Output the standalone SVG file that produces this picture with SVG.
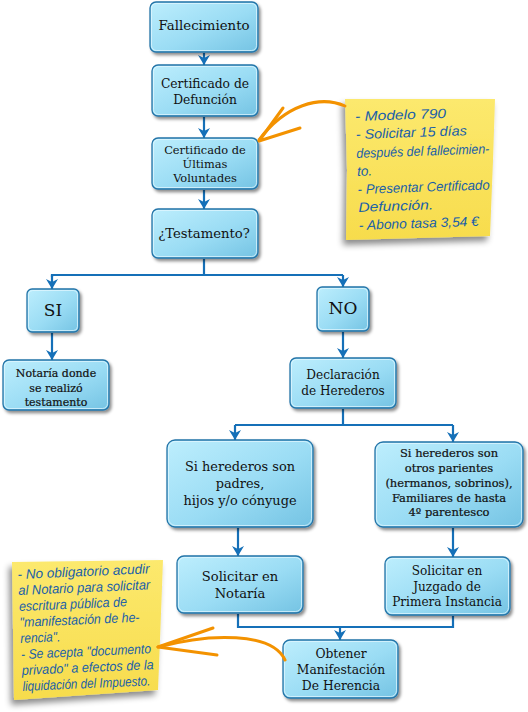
<svg xmlns="http://www.w3.org/2000/svg" width="528" height="712" viewBox="0 0 528 712">
<defs>
<linearGradient id="bg" x1="0" y1="0" x2="1" y2="1">
<stop offset="0" stop-color="#bdeefd"/>
<stop offset="0.55" stop-color="#9adcf4"/>
<stop offset="1" stop-color="#74c3e3"/>
</linearGradient>
<linearGradient id="ny" x1="0" y1="0" x2="0" y2="1">
<stop offset="0" stop-color="#fce96e"/>
<stop offset="1" stop-color="#f7dc4c"/>
</linearGradient>
<filter id="sh" x="-20%" y="-20%" width="150%" height="150%">
<feDropShadow dx="2" dy="2.5" stdDeviation="1.6" flood-color="#000" flood-opacity="0.45"/>
</filter>
<filter id="nsh" x="-20%" y="-20%" width="150%" height="150%">
<feDropShadow dx="-3" dy="5" stdDeviation="3" flood-color="#000" flood-opacity="0.45"/>
</filter>
<marker id="ah" viewBox="0 -6 10 12" refX="10" refY="0" markerWidth="12" markerHeight="12" markerUnits="userSpaceOnUse" orient="auto">
<path d="M0,-6 L10,0 L0,6 L3,0 z" fill="#1570b8"/>
</marker>
</defs>
<style>
.box{fill:url(#bg);stroke:#2474a8;stroke-width:1.3;filter:url(#sh)}
.hl{fill:none;stroke:#e6f8ff;stroke-opacity:0.7;stroke-width:1}
.t{font-family:"DejaVu Serif","Liberation Serif",serif;fill:#111;text-anchor:middle}
.b{stroke:#111;stroke-width:0.2}
.c{fill:none;stroke:#1570b8;stroke-width:2.2}
.ca{fill:none;stroke:#1570b8;stroke-width:2.2;marker-end:url(#ah)}
.note{fill:url(#ny);filter:url(#nsh)}
.nt{font-family:"Liberation Sans","DejaVu Sans",sans-serif;font-style:italic;fill:#1a5fa8;font-size:13.5px}
.or{fill:none;stroke:#f39200;stroke-width:3;stroke-linecap:round;stroke-linejoin:round}
</style>

<g id="connectors">
<line class="ca" x1="204" y1="53" x2="204" y2="65"/>
<line class="ca" x1="204" y1="117" x2="204" y2="138"/>
<line class="ca" x1="204" y1="190" x2="204" y2="209"/>
<path class="c" d="M204,259 V275 H52 V277"/>
<path class="ca" d="M52,275 V289"/>
<path class="c" d="M204,275 H343"/>
<path class="ca" d="M343,275 V287"/>
<line class="ca" x1="52" y1="333" x2="52" y2="360"/>
<line class="ca" x1="343" y1="332" x2="343" y2="358"/>
<path class="c" d="M343,409 V425 H235"/>
<path class="ca" d="M235,425 V440"/>
<path class="c" d="M343,425 H453"/>
<path class="ca" d="M453,425 V442"/>
<line class="ca" x1="238" y1="528" x2="238" y2="556"/>
<line class="ca" x1="453" y1="528" x2="453" y2="557"/>
<path class="c" d="M238,614 V627 H453 V616"/>
<path class="ca" d="M340,627 V640"/>
</g>

<g id="n1"><rect class="box" x="150" y="2" width="108" height="50" rx="6"/><rect class="hl" x="151.5" y="3.5" width="105" height="47" rx="5"/>
<text class="t" x="204" y="30" font-size="13.3">Fallecimiento</text></g>

<g id="n2"><rect class="box" x="152" y="65" width="106" height="51" rx="6"/><rect class="hl" x="153.5" y="66.5" width="103" height="48" rx="5"/>
<text class="t" x="205" y="88" font-size="12.3">Certificado de</text>
<text class="t" x="205" y="104" font-size="12.3">Defunción</text></g>

<g id="n3"><rect class="box" x="152" y="138" width="106" height="51" rx="6"/><rect class="hl" x="153.5" y="139.5" width="103" height="48" rx="5"/>
<text class="t" x="205" y="154" font-size="11.4">Certificado de</text>
<text class="t" x="205" y="168" font-size="11.4">Últimas</text>
<text class="t" x="205" y="182" font-size="11.4">Voluntades</text></g>

<g id="n4"><rect class="box" x="152" y="209" width="106" height="49" rx="6"/><rect class="hl" x="153.5" y="210.5" width="103" height="46" rx="5"/>
<text class="t" x="204" y="238" font-size="13.2">¿Testamento?</text></g>

<g id="n5"><rect class="box" x="27" y="289" width="52" height="43" rx="5"/><rect class="hl" x="28.5" y="290.5" width="49" height="40" rx="4"/>
<text class="t" x="53" y="316" font-size="17">SI</text></g>

<g id="n6"><rect class="box" x="317" y="287" width="52" height="44" rx="5"/><rect class="hl" x="318.5" y="288.5" width="49" height="41" rx="4"/>
<text class="t" x="343" y="314" font-size="17">NO</text></g>

<g id="n7"><rect class="box" x="3" y="360" width="106" height="50" rx="6"/><rect class="hl" x="4.5" y="361.5" width="103" height="47" rx="5"/>
<text class="t b" x="56" y="377" font-size="11">Notaría donde</text>
<text class="t b" x="56" y="392" font-size="11">se realizó</text>
<text class="t b" x="56" y="406" font-size="11">testamento</text></g>

<g id="n8"><rect class="box" x="290" y="358" width="106" height="50" rx="6"/><rect class="hl" x="291.5" y="359.5" width="103" height="47" rx="5"/>
<text class="t" x="343" y="379" font-size="12.1">Declaración</text>
<text class="t" x="343" y="395" font-size="12.1">de Herederos</text></g>

<g id="n9"><rect class="box" x="167" y="440" width="146" height="87" rx="8"/><rect class="hl" x="168.5" y="441.5" width="143" height="84" rx="7"/>
<text class="t" x="240" y="471" font-size="12.9">Si herederos son</text>
<text class="t" x="240" y="488" font-size="12.9">padres,</text>
<text class="t" x="240" y="505" font-size="12.9">hijos y/o cónyuge</text></g>

<g id="n10"><rect class="box" x="375" y="442" width="148" height="85" rx="8"/><rect class="hl" x="376.5" y="443.5" width="145" height="82" rx="7"/>
<text class="t b" x="449" y="457" font-size="11.5">Si herederos son</text>
<text class="t b" x="449" y="472" font-size="11.5">otros parientes</text>
<text class="t b" x="449" y="487" font-size="11.5">(hermanos, sobrinos),</text>
<text class="t b" x="449" y="502" font-size="11.5">Familiares de hasta</text>
<text class="t b" x="449" y="516" font-size="11.5">4º parentesco</text></g>

<g id="n11"><rect class="box" x="177" y="556" width="126" height="57" rx="7"/><rect class="hl" x="178.5" y="557.5" width="123" height="54" rx="6"/>
<text class="t" x="240" y="581" font-size="13.1">Solicitar en</text>
<text class="t" x="240" y="598" font-size="13.1">Notaría</text></g>

<g id="n12"><rect class="box" x="385" y="557" width="125" height="58" rx="7"/><rect class="hl" x="386.5" y="558.5" width="122" height="55" rx="6"/>
<text class="t" x="447" y="575" font-size="12.1">Solicitar en</text>
<text class="t" x="447" y="591" font-size="12.1">Juzgado de</text>
<text class="t" x="447" y="606" font-size="12.1">Primera Instancia</text></g>

<g id="n13"><rect class="box" x="283" y="640" width="115" height="58" rx="7"/><rect class="hl" x="284.5" y="641.5" width="112" height="55" rx="6"/>
<text class="t" x="341" y="658" font-size="12.3">Obtener</text>
<text class="t" x="341" y="674" font-size="12.3">Manifestación</text>
<text class="t" x="341" y="690" font-size="12.3">De Herencia</text></g>

<g id="note1">
<path class="note" d="M345,99 L495,99 L493,160 L490,236 L346,240 L347,170 z"/>
<g transform="rotate(-2 357 170)">
<text class="nt" x="357" y="121" textLength="91" lengthAdjust="spacingAndGlyphs">- Modelo 790</text>
<text class="nt" x="357" y="139" textLength="111" lengthAdjust="spacingAndGlyphs">- Solicitar 15 días</text>
<text class="nt" x="357" y="158" textLength="133" lengthAdjust="spacingAndGlyphs">después del fallecimien-</text>
<text class="nt" x="357" y="176">to.</text>
<text class="nt" x="357" y="194" textLength="132" lengthAdjust="spacingAndGlyphs">- Presentar Certificado</text>
<text class="nt" x="357" y="212" textLength="75" lengthAdjust="spacingAndGlyphs">Defunción.</text>
<text class="nt" x="357" y="230" textLength="120" lengthAdjust="spacingAndGlyphs">- Abono tasa 3,54 €</text>
</g>
</g>
<g id="arrow1">
<path class="or" d="M345,106 C320,95 285,105 259,140"/>
<path class="or" d="M283,108 L259,141 L300,128"/>
</g>

<g id="note2">
<path class="note" d="M12,562 L163,560 L160,640 L158,690 L14,700 z"/>
<g transform="rotate(-2.5 20 630)">
<text class="nt" x="20" y="579" font-size="12.5" textLength="132" lengthAdjust="spacingAndGlyphs">- No obligatorio acudir</text>
<text class="nt" x="20" y="595" font-size="12.5" textLength="132" lengthAdjust="spacingAndGlyphs">al Notario para solicitar</text>
<text class="nt" x="20" y="611" font-size="12.5" textLength="108" lengthAdjust="spacingAndGlyphs">escritura pública de</text>
<text class="nt" x="20" y="627" font-size="12.5" textLength="120" lengthAdjust="spacingAndGlyphs">"manifestación de he-</text>
<text class="nt" x="20" y="643" font-size="12.5" textLength="40" lengthAdjust="spacingAndGlyphs">rencia".</text>
<text class="nt" x="20" y="659" font-size="12.5" textLength="130" lengthAdjust="spacingAndGlyphs">- Se acepta "documento</text>
<text class="nt" x="20" y="675" font-size="12.5" textLength="132" lengthAdjust="spacingAndGlyphs">privado" a efectos de la</text>
<text class="nt" x="20" y="691" font-size="12.5" textLength="128" lengthAdjust="spacingAndGlyphs">liquidación del Impuesto.</text>
</g>
</g>
<g id="arrow2">
<path class="or" d="M285,660 C272,632 210,633 158,647"/>
<path class="or" d="M213,628 L158,647 L217,655"/>
</g>
</svg>
